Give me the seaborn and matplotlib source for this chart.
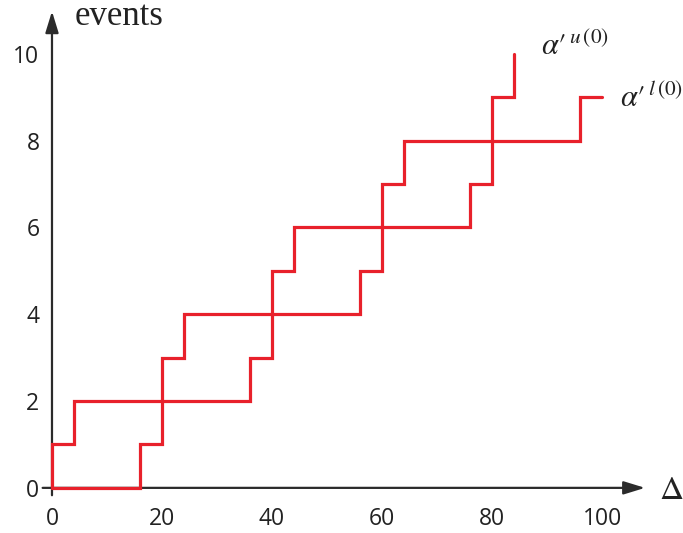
import matplotlib
matplotlib.use("Agg")
import matplotlib.pyplot as plt
import seaborn as sns
import pandas as pd

# Staircase curves: (delta, events) change points
upper_delta = [0, 0, 4, 20, 24, 40, 44, 60, 64, 80, 84]
upper_events = [0, 1, 2, 3, 4, 5, 6, 7, 8, 9, 10]
lower_delta = [0, 16, 20, 36, 40, 56, 60, 76, 80, 96, 100]
lower_events = [0, 1, 2, 3, 4, 5, 6, 7, 8, 9, 9]

x_ticks = [0, 20, 40, 60, 80, 100]
y_ticks = [0, 2, 4, 6, 8, 10]
y_minor = [1, 3, 5, 7, 9]

sns.set_theme(style="white")
plt.rcParams["font.family"] = ["Open Sans", "DejaVu Sans"]
plt.rcParams["mathtext.fontset"] = "stix"

RED = "#e8212b"
AXC = "#2b2b2b"

fig = plt.figure(figsize=(6.83, 5.33), dpi=100)
ax = fig.add_axes([0, 0, 1, 1])
ax.set_xlim(-9.45, 114.7)
ax.set_ylim(-1.04, 11.24)

df_u = pd.DataFrame({"delta": upper_delta, "events": upper_events})
df_l = pd.DataFrame({"delta": lower_delta, "events": lower_events})
for df in (df_u, df_l):
    sns.lineplot(data=df, x="delta", y="events", ax=ax, estimator=None,
                 sort=False, drawstyle="steps-post", color=RED, lw=2.3,
                 solid_joinstyle="miter", zorder=3)

# axes through the origin with arrow heads
for s in ax.spines.values():
    s.set_visible(False)
ax.spines["bottom"].set_position(("data", 0))
ax.spines["left"].set_position(("data", 0))

arrow = dict(arrowstyle="-|>,head_length=0.65,head_width=0.2",
             color=AXC, lw=1.6, mutation_scale=20, shrinkA=0, shrinkB=0)
ax.annotate("", xy=(107.8, 0), xytext=(-1.7, 0), arrowprops=arrow, zorder=2)
ax.annotate("", xy=(0, 10.98), xytext=(0, -0.17), arrowprops=arrow, zorder=2)

ax.set_xticks(x_ticks)
ax.set_yticks(y_ticks)
ax.set_yticks(y_minor, minor=True)
ax.tick_params(axis="both", which="both", direction="inout", length=6,
               width=1, color=AXC, labelsize=16.5, labelcolor="#222222")
ax.tick_params(axis="x", pad=11)
ax.tick_params(axis="y", pad=6)
ax.set_xlabel("")
ax.set_ylabel("")
ax.grid(False)

ax.text(4.2, 10.86, "events", family="Liberation Serif", fontsize=25,
        color="#222222", ha="left", va="center")
ax.text(110.3, -0.05, r"$\Delta$", fontsize=24, color="#222222",
        ha="left", va="center")
ax.text(88.9, 9.98, r"$\alpha\prime^{\,u\,(0)}$", fontsize=22,
        color="#222222", ha="left", va="baseline")
ax.text(103.3, 8.78, r"$\alpha\prime^{\,l\,(0)}$", fontsize=22,
        color="#222222", ha="left", va="baseline")

fig.savefig("out.png", dpi=100)
